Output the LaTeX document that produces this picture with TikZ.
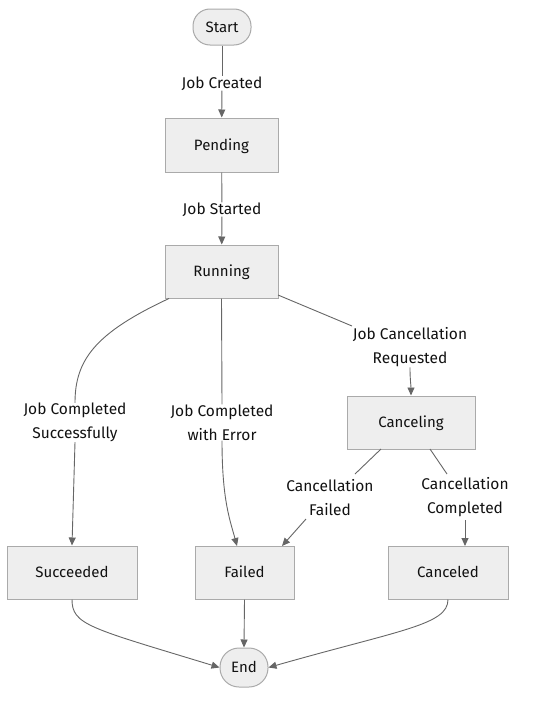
\documentclass[tikz,border=0pt]{standalone}
\usepackage{fontspec}
\setmainfont{Fira Sans}
\usetikzlibrary{arrows.meta}
\definecolor{nodefill}{HTML}{EEEEEE}
\definecolor{nodeline}{HTML}{AAAAAA}
\definecolor{edgecol}{HTML}{666666}
\definecolor{txt}{HTML}{111111}
\begin{document}
\begin{tikzpicture}[x=1pt,y=-1pt,
  state/.style={draw=nodeline,fill=nodefill,line width=1pt,inner sep=0pt,text=txt,text height=10pt,text depth=0pt,font=\fontsize{15}{18}\selectfont},
  stadium/.style={state,rounded corners=17pt},
  lab/.style={inner sep=0pt,align=center,text=txt,font=\fontsize{15.5}{24}\selectfont},
  edge/.style={draw=edgecol,line width=0.9pt},
  arr/.style={edge,-{Triangle[length=8pt,width=7pt]}}]
\useasboundingbox (0,0) rectangle (543,704);
\node[stadium,minimum width=58pt,minimum height=36pt] (start) at (222,27) {Start};
\node[state,minimum width=113pt,minimum height=54pt] (pend) at (221.5,145) {Pending};
\node[state,minimum width=113pt,minimum height=53pt] (run) at (221.5,271.5) {Running};
\node[state,minimum width=128pt,minimum height=53pt] (cing) at (411,422.5) {Canceling};
\node[state,minimum width=130pt,minimum height=53pt] (succ) at (72,572.5) {Succeeded};
\node[state,minimum width=99pt,minimum height=53pt] (fail) at (244.5,572.5) {Failed};
\node[state,minimum width=120pt,minimum height=53pt] (cand) at (448,572.5) {Canceled};
\node[stadium,minimum width=48pt,minimum height=39pt,rounded corners=19pt] (end) at (244,667.5) {End};

\node[lab] (l1) at (222,83.5) {Job Created};
\node[lab] (l2) at (222,209.5) {Job Started};
\node[lab] (l3) at (75,422.5) {Job Completed\\Successfully};
\node[lab] (l4) at (222,422.5) {Job Completed\\with Error};
\node[lab] (l5) at (410,347.5) {Job Cancellation\\Requested};
\node[lab] (l6) at (330,497.5) {Cancellation\\Failed};
\node[lab] (l7) at (465,497.5) {Cancellation\\Completed};

\coordinate (r1) at (169,298.5);
\coordinate (r3) at (278,295);
\coordinate (l5w) at (352,326);
\coordinate (c1) at (381,449);
\coordinate (c2) at (430,449);
\coordinate (l6n) at (355,474);
\coordinate (l7n) at (447,474);
\coordinate (l6s) at (306,519);
\coordinate (l7s) at (465,520);
\coordinate (f1) at (237,546);
\coordinate (f2) at (282,546);
\coordinate (cdn) at (465,546);

\draw[edge] (start) -- (l1);
\draw[arr] (l1) -- (pend);
\draw[edge] (pend) -- (l2);
\draw[arr] (l2) -- (run);

\draw[edge] (r1) .. controls (95,333) and (75,360) .. (l3.north);
\draw[arr] (l3.south) -- (succ.north);

\draw[edge] (run.south) -- (l4.north);
\draw[arr] (l4.south) .. controls (222,500) and (230,520) .. (f1);

\draw[edge] (r3) -- (l5w);
\draw[arr] (l5.south) .. controls (410,380) and (411,385) .. (cing.north);

\draw[edge] (c1) -- (l6n);
\draw[arr] (l6s) -- (f2);
\draw[edge] (c2) -- (l7n);
\draw[arr] (l7s) -- (cdn);

\draw[arr] (succ.south) .. controls (72,625) and (90,628) .. (end.west);
\draw[arr] (fail.south) -- (end.north);
\draw[arr] (cand.south) .. controls (448,625) and (400,630) .. (end.east);
\end{tikzpicture}
\end{document}
